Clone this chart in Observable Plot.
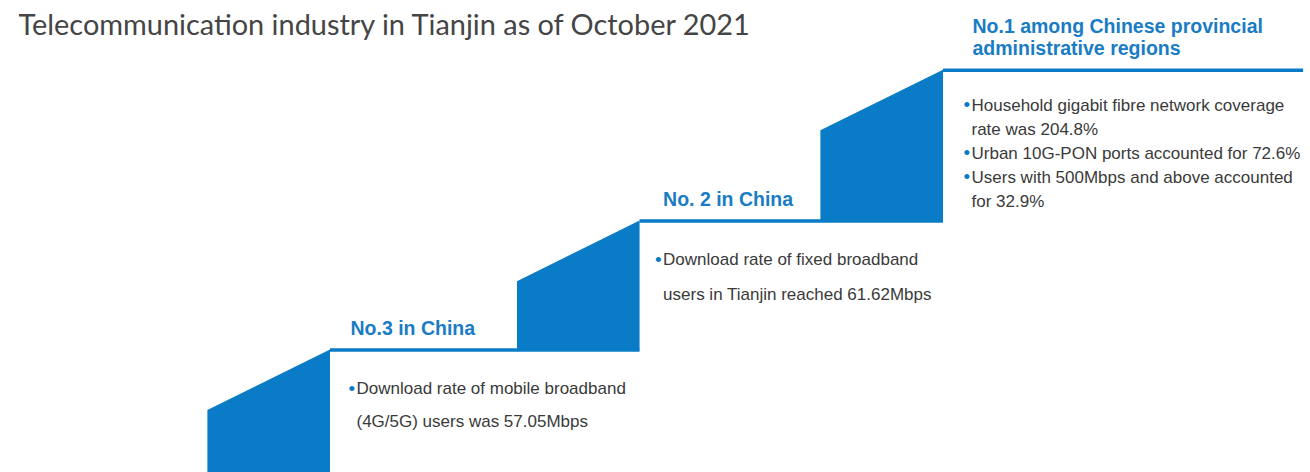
<!DOCTYPE html>
<html><head><meta charset="utf-8">
<script src="https://cdn.jsdelivr.net/npm/d3@7"></script>
<script src="https://cdn.jsdelivr.net/npm/@observablehq/plot@0.6"></script>
<style>
body{margin:0;background:#fff}
svg{display:block}
</style>
</head><body><div id="chart"></div>
<script>
// ---- data ----
const title = "Telecommunication industry in Tianjin as of October 2021";
const stepRanks = ["No.3 in China", "No. 2 in China", "No.1 among Chinese provincial\nadministrative regions"];
const stepPositions = [1, 2.01, 3];       // stair index (right edge of each riser)
const stepTops = [0.95, 1.95, 3.12];      // stair level heights
const stepDetails = [
  [["Download rate of mobile broadband", "(4G/5G) users was 57.05Mbps"]],
  [["Download rate of fixed broadband", "users in Tianjin reached 61.62Mbps"]],
  [["Household gigabit fibre network coverage", "rate was 204.8%"],
   ["Urban 10G-PON ports accounted for 72.6%"],
   ["Users with 500Mbps and above accounted", "for 32.9%"]]
];

// ---- style / layout ----
const BLUE = "#0a7bc6";
const HEAD = "#1a7cc4";
const TEXT = "#3a3a3a";
const RISE = 0.47, RISER_W = 0.4, LINE_END = 4.175;
const bodyLayout = [{dy0: 39, gap: 33, bdx: 17}, {dy0: 39, gap: 35, bdx: 14}, {dy0: 35, gap: 24, bdx: 19}];
const headDx = [20, 23, 29];

const risers = stepPositions.flatMap((p, i) => [
  {step: i, x: p - RISER_W, y1: i ? stepTops[i - 1] : 0, y2: stepTops[i] - RISE},
  {step: i, x: p, y1: i ? stepTops[i - 1] : 0, y2: stepTops[i]}
]);
const treads = stepPositions.map((p, i) => ({
  x1: p, x2: i < stepPositions.length - 1 ? stepPositions[i + 1] : LINE_END, y: stepTops[i]
}));

const lines = [];
stepDetails.forEach((items, s) => {
  let n = 0;
  items.forEach(item => item.forEach((t, j) => { lines.push({step: s, line: n++, text: t, bullet: j === 0}); }));
});

const font = "'Liberation Sans', Arial, sans-serif";
const textMarks = lines.flatMap(d => {
  const L = bodyLayout[d.step];
  const dy = L.dy0 + d.line * L.gap;
  const m = [Plot.text([d], {
    x: () => stepPositions[d.step], y: () => stepTops[d.step], text: "text",
    dx: L.bdx + 9, dy, textAnchor: "start", lineAnchor: "middle",
    fill: TEXT, fontSize: 17, fontFamily: font
  })];
  if (d.bullet) m.push(Plot.text([d], {
    x: () => stepPositions[d.step], y: () => stepTops[d.step], text: () => "•",
    dx: L.bdx + 1, dy, textAnchor: "start", lineAnchor: "middle",
    fill: BLUE, fontSize: 19, fontFamily: font
  }));
  return m;
});

const headMarks = stepRanks.map((r, i) => Plot.text([r], {
  x: () => stepPositions[i], y: () => stepTops[i], text: d => d,
  dx: headDx[i], dy: -15, textAnchor: "start", lineAnchor: "bottom", lineHeight: 1.13,
  fill: HEAD, fontSize: 19.5, fontWeight: "bold", fontFamily: font
}));

const chart = Plot.plot({
  width: 1310, height: 472, margin: 0,
  x: {domain: [0, 4.2], range: [23.5, 1310.8], axis: null},
  y: {domain: [0, 3.66], axis: null},
  marks: [
    Plot.areaY(risers, {x: "x", y1: "y1", y2: "y2", z: "step", fill: BLUE}),
    Plot.ruleY(treads, {y: "y", x1: "x1", x2: "x2", stroke: BLUE, strokeWidth: 3.5}),
    ...headMarks,
    ...textMarks,
    Plot.text([title], {frameAnchor: "top-left", dx: 18, dy: 14, text: d => d, textAnchor: "start", lineAnchor: "top",
      fill: "#454545", fontSize: 28.9, fontFamily: "Lato, sans-serif"})
  ]
});
document.getElementById("chart").appendChild(chart);
</script>
</body></html>
